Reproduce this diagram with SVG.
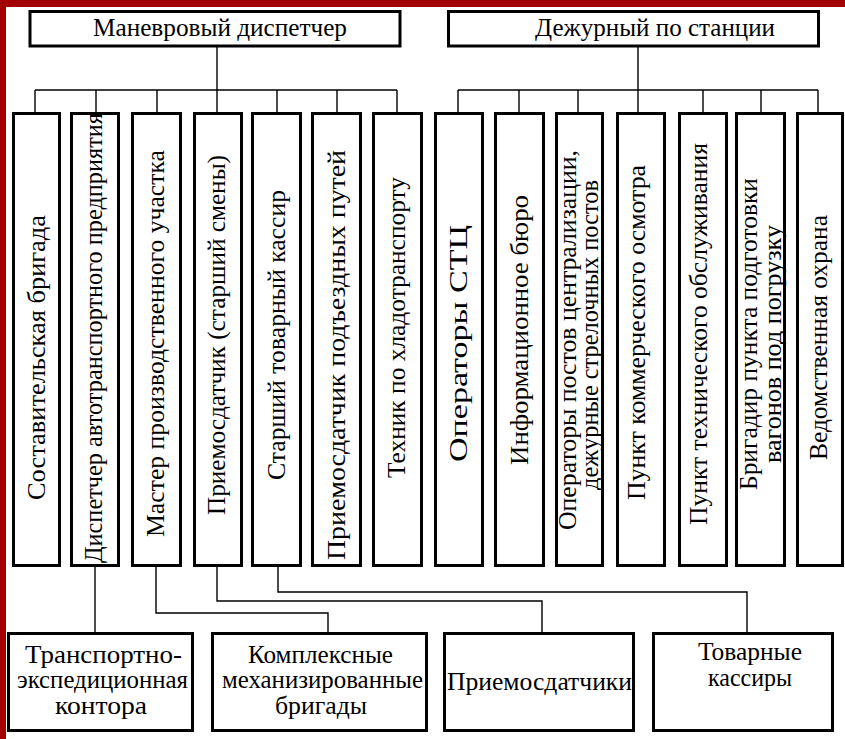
<svg xmlns="http://www.w3.org/2000/svg" width="845" height="739" viewBox="0 0 845 739">
<style>
.box{fill:#fff;stroke:#000;stroke-width:3}
.ln{fill:none;stroke:#000;stroke-width:1.4}
.t{font-family:'Liberation Serif','Times New Roman',serif;font-size:25px;fill:#000}
.v{font-family:'Liberation Serif','Times New Roman',serif;font-size:25px;fill:#000}
</style>
<rect x="0" y="0" width="845" height="739" fill="#fff"/>
<rect x="0" y="0" width="845" height="7" fill="#a30000"/>
<rect x="0" y="0" width="6" height="739" fill="#a30000"/>

<g id="connectors">
<path class="ln" d="M217,47V90M35,90H397M35,90V113M96,90V113M157,90V113M217,90V113M277,90V113M337,90V113M397,90V113"/>
<path class="ln" d="M638,47V90M458,90H818M458,90V113M519,90V113M578,90V113M638,90V113M703,90V113M761,90V113M818,90V113"/>
<path class="ln" d="M95,567V632"/>
<path class="ln" d="M156,567V613H328V632"/>
<path class="ln" d="M217,567V601H542V632"/>
<path class="ln" d="M278,567V592H747V632"/>
</g>

<g id="n-manevr"><rect class="box" x="30" y="11.5" width="370" height="34.5"/><text class="t" x="93" y="36" textLength="254" lengthAdjust="spacingAndGlyphs">Маневровый диспетчер</text></g>
<g id="n-dezhur"><rect class="box" x="448.5" y="11.5" width="370" height="34.5"/><text class="t" x="535" y="36" textLength="240" lengthAdjust="spacingAndGlyphs">Дежурный по станции</text></g>

<g id="n1"><rect class="box" x="13.5" y="113.5" width="46" height="452"/><text class="v" transform="rotate(-90)" x="-500" y="45" textLength="285" lengthAdjust="spacingAndGlyphs">Составительская бригада</text></g>
<g id="n2"><rect class="box" x="71.5" y="113.5" width="47" height="452"/><text class="v" transform="rotate(-90)" x="-563" y="102" textLength="450" lengthAdjust="spacingAndGlyphs">Диспетчер автотранспортного предприятия</text></g>
<g id="n3"><rect class="box" x="132.5" y="113.5" width="48" height="452"/><text class="v" transform="rotate(-90)" x="-537" y="164" textLength="387" lengthAdjust="spacingAndGlyphs">Мастер производственного участка</text></g>
<g id="n4"><rect class="box" x="194.5" y="113.5" width="47" height="452"/><text class="v" transform="rotate(-90)" x="-515" y="225" textLength="360" lengthAdjust="spacingAndGlyphs">Приемосдатчик (старший смены)</text></g>
<g id="n5"><rect class="box" x="252.5" y="113.5" width="48" height="452"/><text class="v" transform="rotate(-90)" x="-480" y="285" textLength="290" lengthAdjust="spacingAndGlyphs">Старший товарный кассир</text></g>
<g id="n6"><rect class="box" x="312.5" y="113.5" width="48" height="452"/><text class="v" transform="rotate(-90)" x="-560" y="345" textLength="410" lengthAdjust="spacingAndGlyphs">Приемосдатчик подъездных путей</text></g>
<g id="n7"><rect class="box" x="373.5" y="113.5" width="48" height="452"/><text class="v" transform="rotate(-90)" x="-478" y="405" textLength="301" lengthAdjust="spacingAndGlyphs">Техник по хладотранспорту</text></g>
<g id="n8"><rect class="box" x="435.5" y="113.5" width="47" height="452"/><text class="v" transform="rotate(-90)" x="-462" y="467" font-size="27" textLength="237" lengthAdjust="spacingAndGlyphs">Операторы СТЦ</text></g>
<g id="n9"><rect class="box" x="495.5" y="113.5" width="48" height="452"/><text class="v" transform="rotate(-90)" x="-465" y="528" textLength="270" lengthAdjust="spacingAndGlyphs">Информационное бюро</text></g>
<g id="n10"><rect class="box" x="556.5" y="113.5" width="46" height="452"/><text class="v" transform="rotate(-90)" x="-530" y="576" textLength="380" lengthAdjust="spacingAndGlyphs">Операторы постов централизации,</text><text class="v" transform="rotate(-90)" x="-490" y="598" textLength="310" lengthAdjust="spacingAndGlyphs">дежурные стрелочных постов</text></g>
<g id="n11"><rect class="box" x="617.5" y="113.5" width="47" height="452"/><text class="v" transform="rotate(-90)" x="-500" y="645" textLength="335" lengthAdjust="spacingAndGlyphs">Пункт коммерческого осмотра</text></g>
<g id="n12"><rect class="box" x="679.5" y="113.5" width="47" height="452"/><text class="v" transform="rotate(-90)" x="-525" y="707" textLength="382" lengthAdjust="spacingAndGlyphs">Пункт технического обслуживания</text></g>
<g id="n13"><rect class="box" x="736.5" y="113.5" width="48" height="452"/><text class="v" transform="rotate(-90)" x="-490" y="757" textLength="312" lengthAdjust="spacingAndGlyphs">Бригадир пункта подготовки</text><text class="v" transform="rotate(-90)" x="-463" y="781" textLength="238" lengthAdjust="spacingAndGlyphs">вагонов под погрузку</text></g>
<g id="n14"><rect class="box" x="797.5" y="113.5" width="45" height="452"/><text class="v" transform="rotate(-90)" x="-460" y="827" textLength="245" lengthAdjust="spacingAndGlyphs">Ведомственная охрана</text></g>

<g id="b1"><rect class="box" x="8.5" y="633.5" width="184" height="97"/><text class="t" x="25" y="663" textLength="157" lengthAdjust="spacingAndGlyphs">Транспортно-</text><text class="t" x="17" y="688" textLength="171" lengthAdjust="spacingAndGlyphs">экспедиционная</text><text class="t" x="55" y="714" textLength="92" lengthAdjust="spacingAndGlyphs">контора</text></g>
<g id="b2"><rect class="box" x="212.5" y="633.5" width="214" height="97"/><text class="t" x="248" y="663" textLength="145" lengthAdjust="spacingAndGlyphs">Комплексные</text><text class="t" x="222" y="688" textLength="201" lengthAdjust="spacingAndGlyphs">механизированные</text><text class="t" x="275" y="714" textLength="92" lengthAdjust="spacingAndGlyphs">бригады</text></g>
<g id="b3"><rect class="box" x="444.5" y="633.5" width="189" height="97"/><text class="t" x="447" y="690" textLength="185" lengthAdjust="spacingAndGlyphs">Приемосдатчики</text></g>
<g id="b4"><rect class="box" x="653.5" y="633.5" width="179" height="97"/><text class="t" x="698" y="660" textLength="104" lengthAdjust="spacingAndGlyphs">Товарные</text><text class="t" x="708" y="686" textLength="84" lengthAdjust="spacingAndGlyphs">кассиры</text></g>
</svg>
